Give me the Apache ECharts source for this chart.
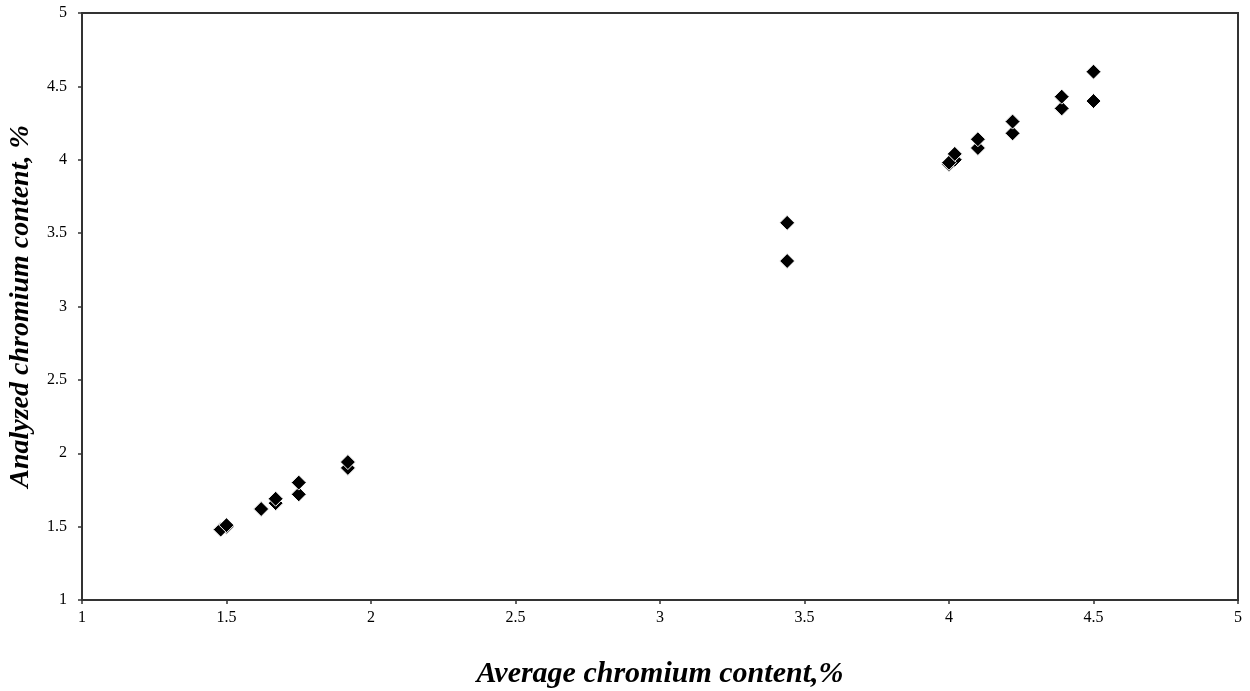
<!DOCTYPE html>
<html>
<head>
<meta charset="utf-8">
<script src="https://cdn.jsdelivr.net/npm/echarts@6/dist/echarts.min.js"></script>
<style>html,body{margin:0;padding:0;background:#fff;}#c{width:1250px;height:691px;}</style>
</head>
<body>
<div id="c"></div>
<script>
var averageContent = [1.48, 1.50, 1.62, 1.67, 1.75, 1.92, 3.44, 4.00, 4.02, 4.10, 4.22, 4.39, 4.50];
var analyzedA = [1.48, 1.51, 1.62, 1.69, 1.80, 1.94, 3.57, 3.98, 4.04, 4.14, 4.26, 4.43, 4.60];
var analyzedB = [1.48, 1.50, 1.62, 1.66, 1.72, 1.90, 3.31, 3.97, 4.00, 4.08, 4.18, 4.35, 4.40];
var xTicks = [1, 1.5, 2, 2.5, 3, 3.5, 4, 4.5, 5];
var yTicks = [1, 1.5, 2, 2.5, 3, 3.5, 4, 4.5, 5];

function pairs(xs, ys) { return xs.map(function (x, i) { return [x, ys[i]]; }); }

var chart = echarts.init(document.getElementById('c'), null, {renderer: 'canvas'});
var font = 'Liberation Serif';
chart.setOption({
  animation: false,
  backgroundColor: '#fff',
  grid: {left: 82, top: 13, right: 12, bottom: 91, show: true, borderColor: '#333', borderWidth: 2,
         containLabel: false, outerBoundsMode: 'none'},
  xAxis: {
    type: 'value', min: xTicks[0], max: xTicks[xTicks.length - 1], interval: 0.5,
    name: 'Average chromium content,%', nameLocation: 'middle', nameGap: 59,
    nameTextStyle: {fontFamily: font, fontSize: 30, fontWeight: 'bold', fontStyle: 'italic', color: '#000'},
    axisLine: {show: true, lineStyle: {color: '#333', width: 2}},
    axisTick: {show: true, length: 4, lineStyle: {color: '#333', width: 1.5}},
    axisLabel: {fontFamily: font, fontSize: 16, color: '#000', margin: 10},
    splitLine: {show: false}
  },
  yAxis: {
    type: 'value', min: yTicks[0], max: yTicks[yTicks.length - 1], interval: 0.5,
    name: 'Analyzed chromium content, %', nameLocation: 'middle', nameGap: 47,
    nameTextStyle: {fontFamily: font, fontSize: 28, fontWeight: 'bold', fontStyle: 'italic', color: '#000'},
    axisLine: {show: true, lineStyle: {color: '#333', width: 2}},
    axisTick: {show: true, length: 4, lineStyle: {color: '#333', width: 1.5}},
    axisLabel: {fontFamily: font, fontSize: 16, color: '#000', margin: 15},
    splitLine: {show: false}
  },
  series: [
    {
      type: 'scatter', name: 'B', data: pairs(averageContent, analyzedB),
      symbol: 'diamond', symbolSize: 15,
      itemStyle: {color: '#000', borderColor: '#fff', borderWidth: 1, opacity: 1}
    },
    {
      type: 'scatter', name: 'A', data: pairs(averageContent, analyzedA),
      symbol: 'diamond', symbolSize: 15,
      itemStyle: {color: '#000', borderColor: '#fff', borderWidth: 1, opacity: 1}
    }
  ]
});
</script>
</body>
</html>
